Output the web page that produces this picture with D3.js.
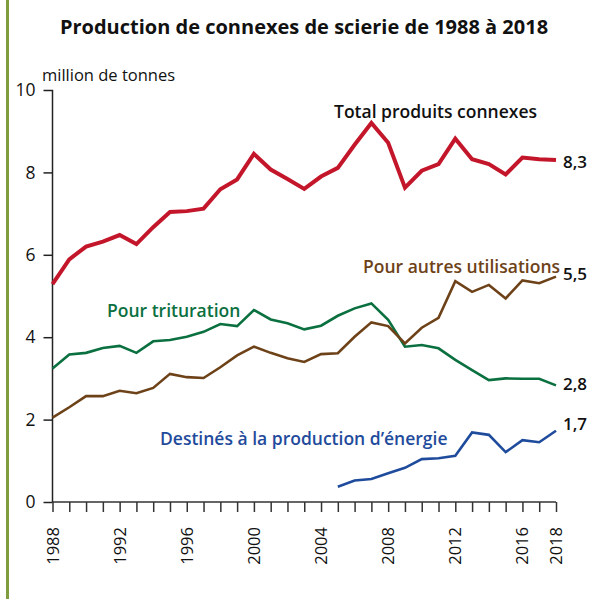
<!DOCTYPE html>
<html><head><meta charset="utf-8">
<script src="https://cdn.jsdelivr.net/npm/d3@7/dist/d3.min.js"></script>
<style>body{margin:0;background:#fff;}svg{display:block;font-family:"Open Sans","Noto Sans",sans-serif;}</style>
</head><body><svg id="c" width="590" height="599"></svg>
<script>
const years = d3.range(1988, 2019);
const total = [5.29,5.89,6.20,6.32,6.48,6.26,6.67,7.04,7.06,7.12,7.59,7.83,8.45,8.07,7.84,7.60,7.90,8.11,8.67,9.20,8.72,7.63,8.04,8.20,8.82,8.32,8.20,7.95,8.36,8.32,8.30];
const autres = [2.05,2.30,2.57,2.57,2.70,2.64,2.77,3.11,3.03,3.01,3.27,3.56,3.77,3.62,3.49,3.40,3.59,3.61,4.01,4.36,4.27,3.85,4.23,4.47,5.36,5.10,5.27,4.94,5.38,5.31,5.47];
const trituration = [3.24,3.58,3.62,3.74,3.79,3.62,3.90,3.93,4.01,4.13,4.32,4.27,4.66,4.43,4.34,4.19,4.28,4.52,4.70,4.82,4.42,3.77,3.81,3.73,3.45,3.20,2.96,3.00,2.99,2.99,2.83];
const energieYears = d3.range(2005, 2019);
const energie = [0.37,0.52,0.56,0.70,0.83,1.04,1.06,1.12,1.69,1.63,1.21,1.50,1.45,1.73];
const yTicks = [0,2,4,6,8,10];
const xLabels = [1988,1992,1996,2000,2004,2008,2012,2016,2018];
const endLabels = ["8,3","5,5","2,8","1,7"];

const svg = d3.select("#c");
svg.append("rect").attr("x",6).attr("y",0).attr("width",3).attr("height",599).attr("fill","#7f9c3f");

const x = d3.scaleLinear().domain([1988,2018]).range([52.5,556]);
const y = d3.scaleLinear().domain([0,10]).range([502,90]);

svg.append("text").attr("x",304).attr("y",34).attr("text-anchor","middle")
  .attr("font-size",20).attr("font-weight",700).attr("fill","#111")
  .text("Production de connexes de scierie de 1988 à 2018");
svg.append("text").attr("x",42).attr("y",81).attr("font-size",16.5).attr("fill","#111").text("million de tonnes");

// y axis
const ya = svg.append("g").attr("transform","translate(52.5,0)")
  .call(d3.axisLeft(y).tickValues(yTicks).tickSize(9).tickPadding(8).tickFormat(d3.format("d")));
ya.select(".domain").attr("stroke","#222").attr("stroke-width",1.5).attr("d","M-9,90.5H0V502");
ya.selectAll(".tick line").attr("stroke","#222").attr("stroke-width",1.5);
ya.selectAll(".tick text").attr("font-size",17.5).attr("fill","#111").attr("font-family","'Open Sans',sans-serif");
ya.selectAll(".tick").filter(d=>d===10).select("line").remove();

// x axis
const xa = svg.append("g").attr("transform","translate(0,502)")
  .call(d3.axisBottom(x).tickValues(years).tickSize(10).tickFormat(""));
xa.select(".domain").attr("stroke","#333").attr("stroke-width",1.5).attr("d","M52.5,0H556");
xa.selectAll(".tick line").attr("stroke","#333").attr("stroke-width",1.5);
svg.append("g").selectAll("text").data(xLabels).join("text")
  .attr("transform",d=>`translate(${x(d)+6},527) rotate(-90)`)
  .attr("text-anchor","end").attr("font-size",16.5).attr("fill","#111").text(d=>d);

const line = d3.line().x(d=>x(d[0])).y(d=>y(d[1]));
const series = [
  {yrs:years, v:total, c:"#c4162a", w:4},
  {yrs:years, v:trituration, c:"#0b7040", w:2.6},
  {yrs:years, v:autres, c:"#6e4218", w:2.6},
  {yrs:energieYears, v:energie, c:"#1f4b9c", w:2.6}
];
series.forEach(s=>{
  svg.append("path").datum(s.yrs.map((yr,i)=>[yr,s.v[i]]))
    .attr("d",line).attr("fill","none").attr("stroke",s.c).attr("stroke-width",s.w)
    .attr("stroke-linejoin","miter").attr("stroke-linecap","butt");
});

const labels = [
  {t:"Total produits connexes", x:334, y:118, c:"#111"},
  {t:"Pour autres utilisations", x:363, y:273, c:"#6e4218"},
  {t:"Pour trituration", x:107, y:317, c:"#0b7040"},
  {t:"Destinés à la production d’énergie", x:160, y:445, c:"#1f4b9c"}
];
svg.append("g").selectAll("text").data(labels).join("text")
  .attr("x",d=>d.x).attr("y",d=>d.y).attr("fill",d=>d.c)
  .attr("font-size",17.5).attr("font-weight",600).text(d=>d.t);

const endVals = [total[30], autres[30], trituration[30], energie[13]];
const endOffsets = [8, 3, 5, -1];
svg.append("g").selectAll("text").data(endVals).join("text")
  .attr("x",563).attr("y",(d,i)=>y(d)+endOffsets[i]).attr("font-size",17).attr("font-weight",600).attr("fill","#111")
  .text((d,i)=>endLabels[i]);
</script></body></html>
